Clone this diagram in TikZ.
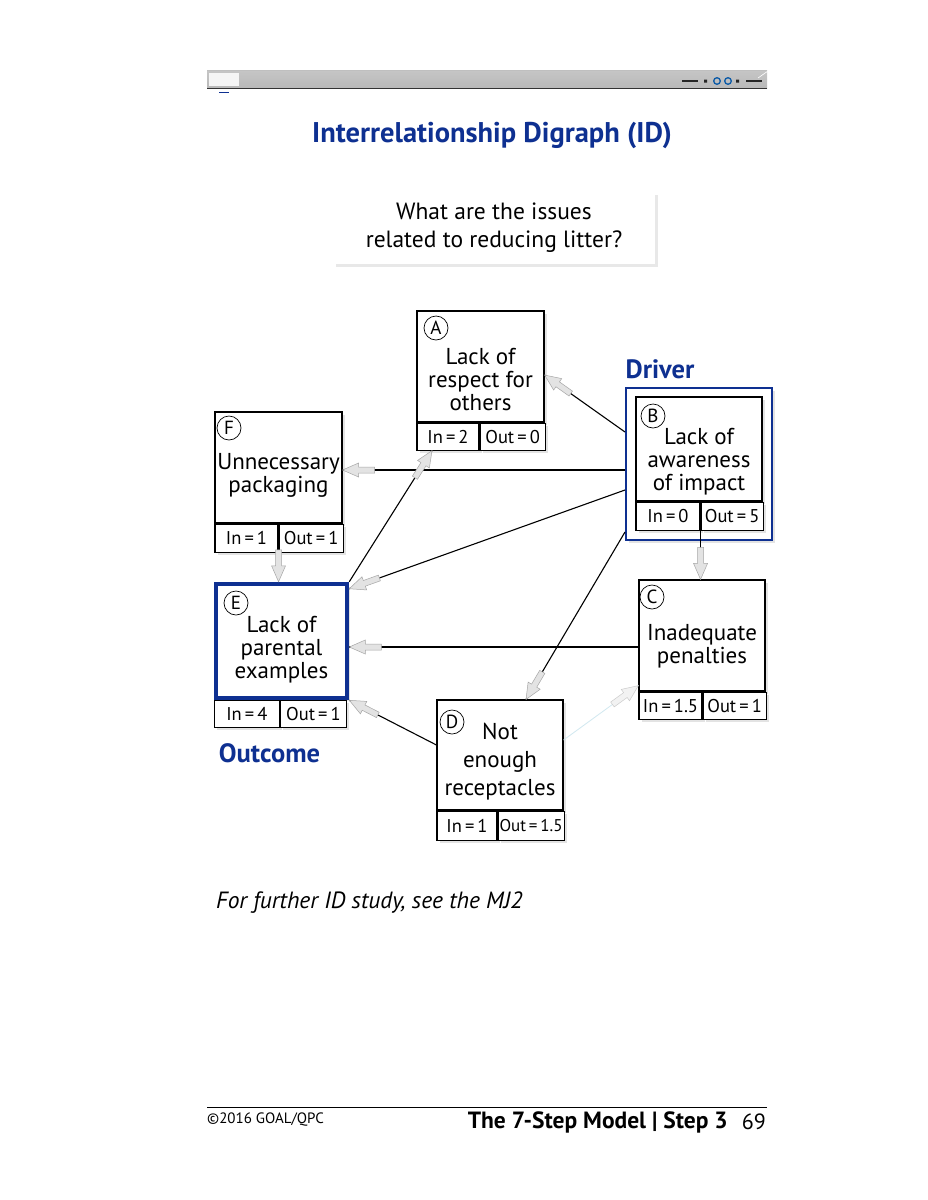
\documentclass[tikz,border=0pt]{standalone}
\usepackage{fontspec}
\setmainfont{PT Sans}
\usetikzlibrary{positioning, shadows, decorations.markings}
\definecolor{idblue}{RGB}{14,48,145}
\newcommand{\fsz}[2]{\fontsize{#1}{#2}\selectfont}

\begin{document}
\begin{tikzpicture}
  [x=1pt, y=-1pt,
   issue/.style={draw, line width=1.1pt, fill=white, inner sep=0pt,
     minimum width=127pt, minimum height=111pt,
     drop shadow={opacity=0.22, shadow xshift=2.5pt, shadow yshift=-2.5pt}},
   cell/.style={draw, line width=1.1pt, fill=white, inner sep=0pt,
     minimum height=27pt, font=\fsz{18.5}{18.5},
     drop shadow={opacity=0.22, shadow xshift=2.5pt, shadow yshift=-2.5pt}},
   tag/.style={circle, draw, line width=0.7pt, inner sep=0pt,
     minimum size=24pt, font=\fsz{19}{19}},
   issuetext/.style={align=center, inner sep=0pt, font=\fsz{23}{23}},
   bluelabel/.style={text=idblue, inner sep=0pt, font=\bfseries\fsz{26.5}{26.5}},
   link/.style={line width=1.1pt, postaction=decorate,
     decoration={markings, mark=at position 1 with {
       \filldraw[fill=gray!22, draw=gray!70, line width=0.5pt]
         (-32,-3) -- (-16,-3) -- (-16,-7) -- (0,0) -- (-16,7)
         -- (-16,3) -- (-32,3) -- cycle;}}},
   faintlink/.style={line width=0.8pt, draw=gray!45!cyan!25!white, postaction=decorate,
     decoration={markings, mark=at position 1 with {
       \filldraw[fill=gray!10, draw=gray!40, line width=0.5pt]
         (-32,-3) -- (-16,-3) -- (-16,-7) -- (0,0) -- (-16,7)
         -- (-16,3) -- (-32,3) -- cycle;}}}]
  \useasboundingbox (0,0) rectangle (927,1200);
  \fill[white] (0,0) rectangle (927,1200);

  % page header bar
  \shade[top color=gray!45, middle color=white, bottom color=gray!55]
    (207,70) rectangle (767,88);
  \draw[gray!40!black, line width=0.8pt] (207,88) -- (767,88);
  \draw[gray!50, line width=0.5pt] (207,70) -- (767,70);
  \fill[white!92!gray] (209,73) rectangle (239,86);
  \draw[white, line width=0.6pt] (758,78) -- (768,71);
  \draw[idblue, line width=1pt] (219,92) -- (229,92);
  \draw[gray!30!black, line width=2pt] (682,81) -- (698,81) (746,81) -- (762,81);
  \fill[gray!30!black] (704,79.5) rectangle (707,82.5) (736,79.5) rectangle (739,82.5);
  \draw[idblue!80!cyan, line width=1.3pt] (717,81) circle (3.3) (728,81) circle (3.3);

  % title and question
  \node[text=idblue, font=\bfseries\fsz{28.5}{28.5}] (title) at (492,135)
    {Interrelationship Digraph (ID)};
  \node[fill=white, minimum width=322pt, minimum height=72pt, align=center,
    font=\fsz{23.5}{28},
    drop shadow={opacity=0.18, shadow xshift=3pt, shadow yshift=-3pt}] (Q)
    at (494,228) {What are the issues\\related to reducing litter?};

  % issue boxes
  \node[issue] (A) at (480.5,366.5) {};
  \node[cell, minimum width=62pt, below right=0pt and 0pt of A.south west] (Ain) {In\,=\,2};
  \node[cell, minimum width=65pt, right=0pt of Ain] (Aout) {Out\,=\,0};

  \node[issue] (F) at (278.5,467.5) {};
  \node[cell, minimum width=63pt, minimum height=28pt,
    below right=0pt and 0pt of F.south west] (Fin) {In\,=\,1};
  \node[cell, minimum width=64pt, minimum height=28pt, right=0pt of Fin] (Fout) {Out\,=\,1};

  \node[issue, draw=idblue, line width=2pt, minimum width=146pt, minimum height=152pt]
    (Bframe) at (699,464) {};
  \node[issue, minimum width=126pt, minimum height=104pt] (B) at (699,449) {};
  \node[cell, minimum width=64pt, minimum height=28pt,
    below right=0pt and 0pt of B.south west] (Bin) {In\,=\,0};
  \node[cell, minimum width=62pt, minimum height=28pt, right=0pt of Bin] (Bout) {Out\,=\,5};

  \node[issue, minimum width=126pt] (C) at (702,635.5) {};
  \node[cell, minimum width=63pt, below right=0pt and 0pt of C.south west] (Cin) {In\,=\,1.5};
  \node[cell, minimum width=63pt, right=0pt of Cin] (Cout) {Out\,=\,1};

  \node[issue, minimum width=126pt, minimum height=110pt] (D) at (500,755) {};
  \node[cell, minimum width=60pt, minimum height=29pt,
    below right=0pt and 0pt of D.south west] (Din) {In\,=\,1};
  \node[cell, minimum width=66pt, minimum height=29pt, right=0pt of Din,
    font=\fsz{17}{17}] (Dout) {Out\,=\,1.5};

  \node[issue, draw=idblue, line width=4.5pt, minimum width=131pt, minimum height=114pt]
    (E) at (281.5,641) {};
  \node[cell, minimum width=65pt, below right=0pt and 0pt of E.south west] (Ein) {In\,=\,4};
  \node[cell, minimum width=66pt, right=0pt of Ein] (Eout) {Out\,=\,1};

  % letters and texts
  \foreach \n/\x/\y in {A/436/328, B/653/416, C/652/597, D/452/722, E/236/603, F/229/428}
    \node[tag] (tag\n) at (\x,\y) {\n};
  \node[issuetext] (Atext) at ([yshift=-13pt]A.center) {Lack of\\respect for\\others};
  \node[issuetext] (Btext) at ([yshift=-12.5pt]B.center) {Lack of\\awareness\\of impact};
  \node[issuetext] (Ctext) at ([yshift=-11pt]C.center) {Inadequate\\penalties};
  \node[issuetext, font=\fsz{23}{28}] (Dtext) at ([yshift=-7pt]D.center)
    {Not\\enough\\receptacles};
  \node[issuetext] (Etext) at ([yshift=-9pt]E.center) {Lack of\\parental\\examples};
  \node[issuetext] (Ftext) at ([yshift=-7.5pt]F.center) {Unnecessary\\packaging};

  \node[bluelabel] (driver) at (660,369) {Driver};
  \node[bluelabel] (outcome) at (269.5,753) {Outcome};

  % relationships
  \draw[link] ([yshift=32pt]Bframe.west) -- ([yshift=-8.5pt]A.east);
  \draw[link] ([yshift=-6pt]Bframe.west) -- ([yshift=-2.5pt]F.east);
  \draw[link] ([yshift=-26pt]Bframe.west) -- ([yshift=-7pt]E.north east);
  \draw[link] ([yshift=-68pt]Bframe.west) -- ([xshift=26pt]D.north);
  \draw[link] (Bin.south east) -- (Bin.south east |- C.north);
  \draw[link] (E.north east) -- ([xshift=-16pt]Ain.south);
  \draw[link] (Fin.south east) -- (Fin.south east |- E.north);
  \draw[link] ([yshift=-11.5pt]C.west) -- ([yshift=-6pt]E.east);
  \draw[link] ([yshift=10pt]D.west) -- (E.south east);
  \draw[faintlink] ([yshift=15pt]D.east) -- ([yshift=6pt]C.south west);

  % notes and footer
  \node[anchor=west, inner sep=0pt, font=\itshape\fsz{23.5}{23.5}] (note) at (216,903)
    {For further ID study, see the MJ2};
  \draw[line width=0.6pt] (207,1107) -- (767,1107);
  \node[anchor=west, inner sep=0pt, font=\fsz{15}{15}] (copy) at (207,1120)
    {\char"00A9 2016 GOAL/QPC};
  \node[anchor=east, inner sep=0pt, font=\fsz{22}{22}] (page) at (766,1122) {69};
  \node[anchor=east, inner sep=0pt, font=\bfseries\fsz{23.5}{23.5}] (step) at (728,1122)
    {The 7-Step Model | Step 3};
\end{tikzpicture}
\end{document}
